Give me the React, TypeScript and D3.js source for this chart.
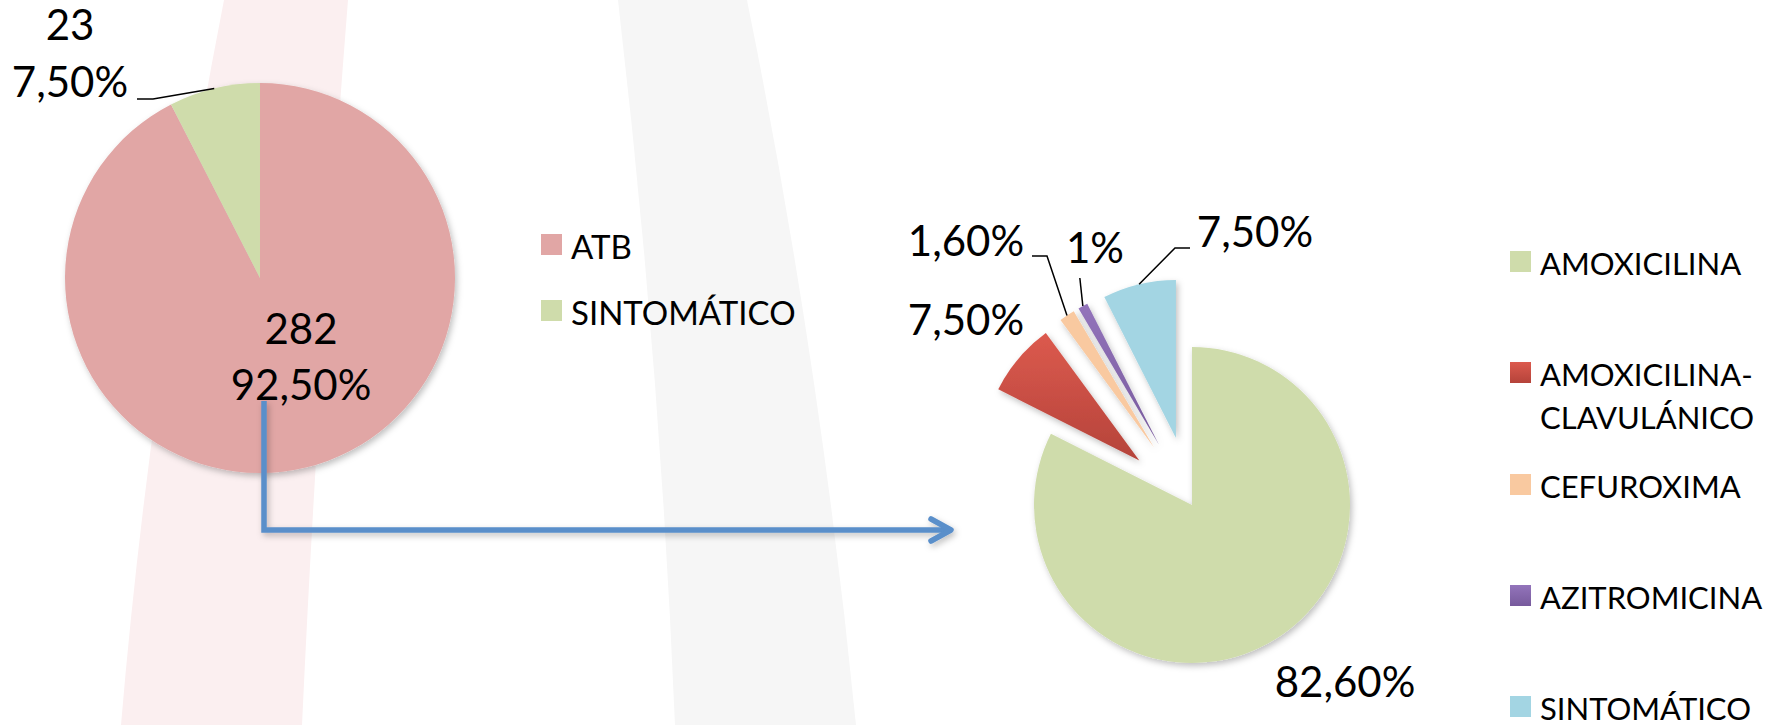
import React from "react";
import * as d3 from "d3";

// ---------- DATA ----------
const LEFT_CATEGORIES = ["ATB", "SINTOMÁTICO"];
const LEFT_VALUES = [282, 23];
const LEFT_PERCENTS = ["92,50%", "7,50%"];

const RIGHT_CATEGORIES = [
  "AMOXICILINA",
  "AMOXICILINA-CLAVULÁNICO",
  "CEFUROXIMA",
  "AZITROMICINA",
  "SINTOMÁTICO",
];
const RIGHT_VALUES = [82.6, 7.5, 1.6, 1, 7.5];
const RIGHT_PERCENTS = ["82,60%", "7,50%", "1,60%", "1%", "7,50%"];

// ---------- STYLE / LAYOUT ----------
const W = 1785;
const H = 725;
const FONT = "Lato, 'Open Sans', sans-serif";

const LEFT_COLORS = ["#e1a6a5", "#cfdcab"];
const RIGHT_FILLS = ["#cfdcab", "url(#gRed)", "#f9c9a0", "url(#gPurple)", "#a3d5e3"];

const L = { cx: 260, cy: 278, r: 195 };
const R = { cx: 1192, cy: 505, r: 158, explode: [0, 69, 69, 69, 69] };

export default function App() {
  const pie = d3
    .pie<number>()
    .sort(null)
    .value((d) => d)
    .startAngle(0)
    .endAngle(2 * Math.PI);

  const leftArcs = pie(LEFT_VALUES);
  const rightArcs = pie(RIGHT_VALUES);

  const arcL = d3.arc<d3.PieArcDatum<number>>().innerRadius(0).outerRadius(L.r);
  const arcR = d3.arc<d3.PieArcDatum<number>>().innerRadius(0).outerRadius(R.r);

  const mid = (a: d3.PieArcDatum<number>) => (a.startAngle + a.endAngle) / 2;
  const polar = (cx: number, cy: number, r: number, ang: number): [number, number] => [
    cx + r * Math.sin(ang),
    cy - r * Math.cos(ang),
  ];

  const rightCenters = rightArcs.map((a, i) => polar(R.cx, R.cy, R.explode[i], mid(a)));
  const rightEdge = (i: number) => {
    const [x, y] = rightCenters[i];
    return polar(x, y, R.r, mid(rightArcs[i]));
  };
  const leftEdge = (i: number) => polar(L.cx, L.cy, L.r, mid(leftArcs[i]));

  const line = d3.line();

  const labelStyle = { fontFamily: FONT, fontSize: 42, fill: "#000" } as const;

  const lgreen = leftEdge(1);
  const eBeige = rightEdge(2);
  const ePurple = rightEdge(3);
  const eBlue = rightEdge(4);

  const leftLegendY = [234, 300];
  const rightLegendY = [251, 362, 474, 585, 696];

  return (
    <svg
      width={W}
      height={H}
      style={{ position: "absolute", left: 0, top: 0, background: "#fff" }}
    >
      <defs>
        <linearGradient id="gRed" x1="0" y1="0" x2="0" y2="1">
          <stop offset="0" stopColor="#dc5a4e" />
          <stop offset="1" stopColor="#b5433a" />
        </linearGradient>
        <linearGradient id="gPurple" x1="0" y1="0" x2="0" y2="1">
          <stop offset="0" stopColor="#9374bb" />
          <stop offset="1" stopColor="#775a9c" />
        </linearGradient>
        <filter id="shadow" x="-20%" y="-20%" width="140%" height="140%">
          <feDropShadow dx="2" dy="3" stdDeviation="3" floodColor="#000" floodOpacity="0.25" />
        </filter>
      </defs>

      {/* background decorative stripes */}
      <path d="M224,0 Q150,380 121,725 L302,725 Q318,380 348,0 Z" fill="#fbeff0" />
      <path d="M618,0 Q660,360 675,725 L856,725 Q820,360 747,0 Z" fill="#f6f6f6" />

      {/* LEFT PIE */}
      <g transform={`translate(${L.cx},${L.cy})`} filter="url(#shadow)">
        {leftArcs.map((a, i) => (
          <path key={i} d={arcL(a) || ""} fill={LEFT_COLORS[i]} />
        ))}
      </g>

      <path
        d={line([[137, 99], [153, 99], lgreen]) || ""}
        fill="none"
        stroke="#000"
        strokeWidth={1.5}
      />
      <text {...labelStyle} x={70} y={40} textAnchor="middle">
        {String(LEFT_VALUES[1])}
      </text>
      <text {...labelStyle} x={70} y={97} textAnchor="middle">
        {LEFT_PERCENTS[1]}
      </text>
      <text {...labelStyle} x={301} y={344} textAnchor="middle">
        {String(LEFT_VALUES[0])}
      </text>
      <text {...labelStyle} x={301} y={400} textAnchor="middle">
        {LEFT_PERCENTS[0]}
      </text>

      {/* left legend */}
      {LEFT_CATEGORIES.map((c, i) => (
        <g key={c}>
          <rect x={541} y={leftLegendY[i]} width={21} height={21} fill={LEFT_COLORS[i]} />
          <text x={571} y={leftLegendY[i] + 25} fontFamily={FONT} fontSize={33} fill="#000">
            {c}
          </text>
        </g>
      ))}

      {/* arrow */}
      <g filter="url(#shadow)">
        <path d="M264,401 V530 H948" fill="none" stroke="#5a8fca" strokeWidth={5.5} />
        <path
          d="M931,519 L951,530 L931,541"
          fill="none"
          stroke="#5a8fca"
          strokeWidth={5.5}
          strokeLinecap="round"
          strokeLinejoin="round"
        />
      </g>

      {/* RIGHT PIE */}
      <g filter="url(#shadow)">
        {rightArcs.map((a, i) => (
          <path
            key={i}
            d={arcR(a) || ""}
            transform={`translate(${rightCenters[i][0]},${rightCenters[i][1]})`}
            fill={RIGHT_FILLS[i]}
          />
        ))}
      </g>

      <path
        d={line([[1032, 256], [1047, 256], eBeige]) || ""}
        fill="none"
        stroke="#000"
        strokeWidth={1.5}
      />
      <path
        d={line([[ePurple[0] - 3, 278], ePurple]) || ""}
        fill="none"
        stroke="#000"
        strokeWidth={1.5}
      />
      <path
        d={line([[1190, 248], [1175, 248], eBlue]) || ""}
        fill="none"
        stroke="#000"
        strokeWidth={1.5}
      />

      <text {...labelStyle} x={1345} y={697} textAnchor="middle">
        {RIGHT_PERCENTS[0]}
      </text>
      <text {...labelStyle} x={966} y={335} textAnchor="middle">
        {RIGHT_PERCENTS[1]}
      </text>
      <text {...labelStyle} x={966} y={256} textAnchor="middle">
        {RIGHT_PERCENTS[2]}
      </text>
      <text {...labelStyle} x={1095} y={263} textAnchor="middle">
        {RIGHT_PERCENTS[3]}
      </text>
      <text {...labelStyle} x={1255} y={247} textAnchor="middle">
        {RIGHT_PERCENTS[4]}
      </text>

      {/* right legend */}
      {RIGHT_CATEGORIES.map((c, i) => {
        const parts = c.includes("-")
          ? [c.slice(0, c.indexOf("-") + 1), c.slice(c.indexOf("-") + 1)]
          : [c];
        return (
          <g key={c}>
            <rect x={1510} y={rightLegendY[i]} width={21} height={21} fill={RIGHT_FILLS[i]} />
            {parts.map((p, j) => (
              <text
                key={j}
                x={1540}
                y={rightLegendY[i] + 24 + j * 43}
                fontFamily={FONT}
                fontSize={31}
                fill="#000"
              >
                {p}
              </text>
            ))}
          </g>
        );
      })}
    </svg>
  );
}
